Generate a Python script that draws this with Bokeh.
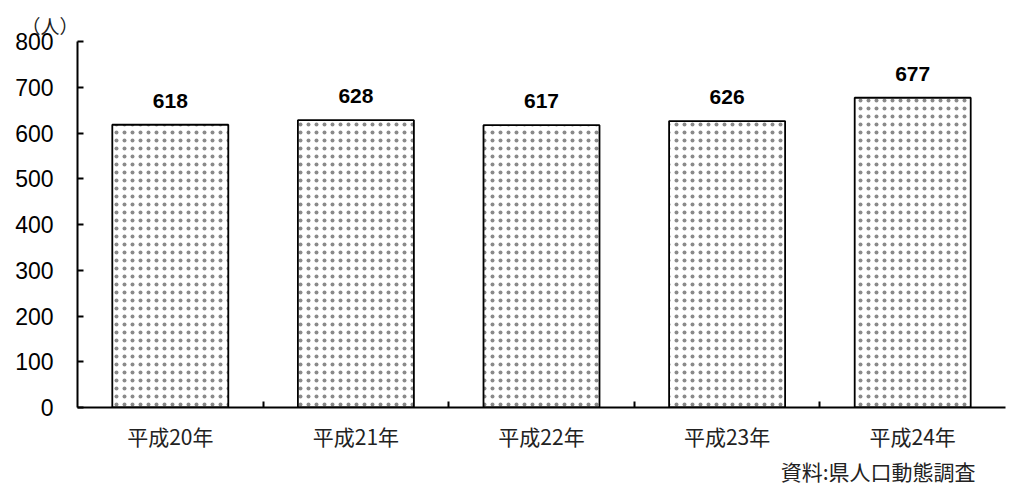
from bokeh.plotting import figure
from bokeh.models import FixedTicker, Range1d, Title, ColumnDataSource
from bokeh.core.properties import value
from bokeh.embed import file_html
from bokeh.resources import INLINE

# Yearly counts (persons)
years = ["平成20年", "平成21年", "平成22年", "平成23年", "平成24年"]
counts = [618, 628, 617, 626, 677]
y_ticks = [0, 100, 200, 300, 400, 500, 600, 700, 800]

x_pos = [i + 0.5 for i in range(len(years))]
src = ColumnDataSource(dict(x=x_pos, top=counts, label=[str(c) for c in counts]))

p = figure(width=1036, height=488, output_backend="svg", toolbar_location=None,
           x_range=Range1d(0, len(years)), y_range=Range1d(0, 800),
           min_border_left=77, min_border_right=31, min_border_top=41,
           min_border_bottom=81)
p.outline_line_color = None
p.grid.grid_line_color = None
p.background_fill_color = "white"
p.border_fill_color = "white"

# stippled bars
p.vbar(x="x", top="top", width=0.625, bottom=0, source=src,
       fill_color="white", line_color="black", line_width=1.8,
       hatch_pattern="dot", hatch_color="#8a8a8a", hatch_scale=8, hatch_weight=0.5)

p.text(x="x", y="top", text="label", source=src, y_offset=-17,
       text_align="center", text_baseline="bottom",
       text_font=value("Liberation Sans"), text_font_style="bold",
       text_font_size="21px", text_color="black")

# y axis
ya = p.yaxis[0]
ya.ticker = FixedTicker(ticks=y_ticks)
ya.major_tick_in = 6
ya.major_tick_out = 0
ya.minor_tick_line_color = None
ya.axis_line_width = 2
ya.major_tick_line_width = 2
ya.major_label_standoff = 24
ya.major_label_text_font = "Liberation Sans"
ya.major_label_text_font_size = "23px"
ya.major_label_text_color = "black"

# x axis: labels at bar centres, small ticks at category boundaries
xa = p.xaxis[0]
xa.ticker = FixedTicker(ticks=x_pos, minor_ticks=list(range(1, len(years))))
xa.major_label_overrides = {x: y for x, y in zip(x_pos, years)}
xa.major_tick_line_color = None
xa.minor_tick_in = 6
xa.minor_tick_out = 0
xa.minor_tick_line_width = 2
xa.axis_line_width = 2
xa.major_label_standoff = 7
xa.major_label_text_font = "Noto Sans CJK JP"
xa.major_label_text_font_size = "21px"
xa.major_label_text_color = "#222222"

p.add_layout(Title(text="（人）", align="left", offset=-56, standoff=6,
                   text_font="Noto Sans CJK JP", text_font_size="19px",
                   text_font_style="normal", text_color="#222222"), "above")
p.add_layout(Title(text="資料:県人口動態調査", align="right", offset=30, standoff=0,
                   text_font="Noto Sans CJK JP", text_font_size="21px",
                   text_font_style="normal", text_color="#222222"), "below")

open("out.html", "w").write(file_html(p, INLINE))
